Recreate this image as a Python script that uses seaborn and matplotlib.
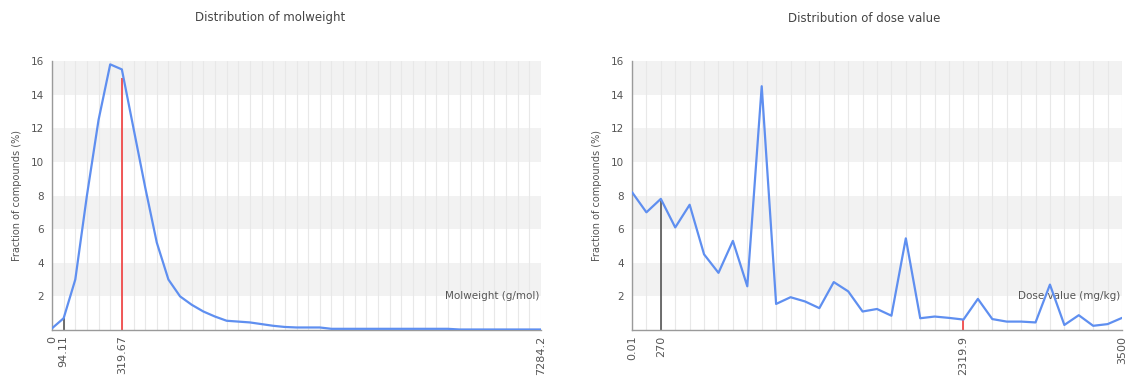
"""
Distribution plots of molweight and dose value
=============================================
Two line charts side by side, binned fractions of compounds.
"""

import numpy as np
import pandas as pd
import matplotlib.pyplot as plt
import seaborn as sns


# =============================================================================
# DATA
# =============================================================================

# Fraction of compounds (%) per molweight bin
MW_VALUES = [
    0.1, 0.7, 3.0, 8.0, 12.5, 15.8, 15.5, 12.0, 8.5, 5.2,
    3.0, 2.0, 1.5, 1.1, 0.8, 0.55, 0.5, 0.45, 0.35, 0.25,
    0.18, 0.15, 0.15, 0.15, 0.07, 0.07, 0.07, 0.07, 0.07, 0.07,
    0.07, 0.07, 0.07, 0.07, 0.07, 0.03, 0.03, 0.03, 0.03, 0.03,
    0.03, 0.03, 0.03,
]
MW_TICK_BINS = [0, 1, 6, 42]
MW_TICK_LABELS = ['0', '94.11', '319.67', '7284.2']
MW_MARK_BINS = [1, 6]          # black: low cutoff, red: median
MW_MARK_HEIGHTS = [0.7, 15.0]

# Fraction of compounds (%) per dose-value bin
DOSE_VALUES = [
    8.2, 7.0, 7.8, 6.1, 7.45, 4.5, 3.4, 5.3, 2.6, 14.5,
    1.55, 1.95, 1.7, 1.3, 2.85, 2.3, 1.1, 1.25, 0.85, 5.45,
    0.7, 0.8, 0.72, 0.62, 1.85, 0.65, 0.5, 0.5, 0.45, 2.7,
    0.3, 0.88, 0.25, 0.35, 0.72,
]
DOSE_TICK_BINS = [0, 2, 23, 34]
DOSE_TICK_LABELS = ['0.01', '270', '2319.9', '3500']
DOSE_MARK_BINS = [2, 23]
DOSE_MARK_HEIGHTS = [7.8, 0.62]

Y_TICKS = [2, 4, 6, 8, 10, 12, 14, 16]
BANDS = [(2, 4), (6, 8), (10, 12), (14, 16)]


# =============================================================================
# VISUALIZATION
# =============================================================================

LINE_COLOR = '#5f8ff0'
TEXT_COLOR = '#555555'
AXIS_COLOR = '#9a9a9a'


def draw_panel(ax, values, tick_bins, tick_labels, mark_bins, mark_heights,
               xlabel):
    n = len(values)
    df = pd.DataFrame({'bin': np.arange(n), 'fraction': values})

    # background bands and per-bin grid
    for lo, hi in BANDS:
        ax.axhspan(lo, hi, color='#f2f2f2', zorder=0, lw=0)
    for b in range(n):
        ax.axvline(b, color='#e8e8e8', lw=0.8, zorder=1)

    # marker lines (black = cutoff, red = median)
    ax.vlines(mark_bins[0], 0, mark_heights[0], color='#555555', lw=1.2, zorder=2)
    ax.vlines(mark_bins[1], 0, mark_heights[1], color='#f03c3c', lw=1.2, zorder=2)

    sns.lineplot(data=df, x='bin', y='fraction', ax=ax, color=LINE_COLOR,
                 linewidth=1.6, zorder=3)

    ax.set_xlim(0, n - 1)
    ax.set_ylim(0, 16)

    ax.set_xticks(tick_bins)
    ax.set_xticklabels(tick_labels, rotation=90, fontsize=8, color=TEXT_COLOR)
    ax.set_yticks(Y_TICKS)
    ax.set_yticklabels([str(t) for t in Y_TICKS], fontsize=7.5, color=TEXT_COLOR)
    ax.set_yticks(np.arange(1, 16, 2), minor=True)
    ax.tick_params(axis='y', which='major', length=4, color=AXIS_COLOR, pad=2)
    ax.tick_params(axis='y', which='minor', length=2, color=AXIS_COLOR)
    ax.tick_params(axis='x', length=0, pad=4)

    for side in ['top', 'right']:
        ax.spines[side].set_visible(False)
    for side in ['left', 'bottom']:
        ax.spines[side].set_color(AXIS_COLOR)
        ax.spines[side].set_linewidth(1.0)

    ax.set_xlabel('')
    ax.set_ylabel('Fraction of compounds (%)', fontsize=7, color=TEXT_COLOR,
                  labelpad=6)
    ax.text(n - 1.1, 2, xlabel, ha='right', va='center', fontsize=7.5,
            color=TEXT_COLOR, zorder=2)


def main(output_path='out.png'):
    sns.set_style('white')
    plt.rcParams['font.family'] = ['DejaVu Sans']

    fig = plt.figure(figsize=(11.31, 3.88), dpi=100)
    ax1 = fig.add_axes([52 / 1131, 58 / 388, 489 / 1131, 269 / 388])
    ax2 = fig.add_axes([632 / 1131, 58 / 388, 490 / 1131, 269 / 388])

    draw_panel(ax1, MW_VALUES, MW_TICK_BINS, MW_TICK_LABELS,
               MW_MARK_BINS, MW_MARK_HEIGHTS, 'Molweight (g/mol)')
    draw_panel(ax2, DOSE_VALUES, DOSE_TICK_BINS, DOSE_TICK_LABELS,
               DOSE_MARK_BINS, DOSE_MARK_HEIGHTS, 'Dose value (mg/kg)')

    fig.text(270 / 1131, 1 - 18 / 388, 'Distribution of molweight',
             ha='center', va='center', fontsize=8.5, color='#444444')
    fig.text(864 / 1131, 1 - 18 / 388, 'Distribution of dose value',
             ha='center', va='center', fontsize=8.5, color='#444444')

    fig.savefig(output_path, dpi=100, facecolor='white')
    plt.close(fig)


if __name__ == '__main__':
    main()
